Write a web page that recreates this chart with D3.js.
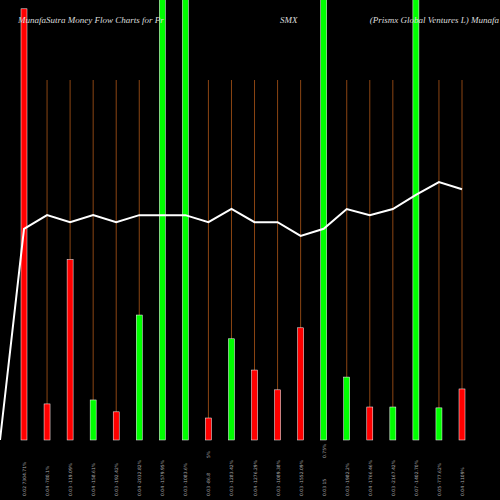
<!DOCTYPE html><html><head><meta charset="utf-8"><script src="https://d3js.org/d3.v7.min.js"></script>
<style>body{margin:0;background:#000}</style></head><body><svg id="c" width="500" height="500"></svg>
<script>
const labels=["0.02 7304.71%","0.04 -780.1%","0.03 -119.09%","0.04 -158.61%","0.03 -192.42%","0.04 -2032.82%","0.04 -1579.95%","0.03 -1083.6%","0.03 -86.8","0.03 -1283.42%","0.04 -1276.29%","0.03 -1089.38%","0.03 -1552.09%","0.03 15","0.03 -1982.2%","0.04 -1766.46%","0.03 -2167.42%","0.07 -1402.70%","0.05 -777.62%","0.04 -1109%"];
const topLabels=["","","","","","","","","5%","","","","","0.75%","","","","","",""];
const volume=[98,8.2,41,9.1,6.4,28.4,110,110,5,23,15.9,11.4,25.5,110,14.3,7.5,7.5,110,7.3,11.6];
const up=[0,0,0,1,0,1,1,1,0,1,0,0,0,1,1,0,1,1,1,0];
const price=[48,51.1,49.5,51.1,49.5,51.1,51.1,51.1,49.5,52.5,49.5,49.5,46.4,48,52.5,51.1,52.5,55.7,58.6,57];
const svg=d3.select("#c");
const x=d3.scaleLinear().domain([0,19]).range([24,462]);
const y=d3.scaleLinear().domain([0,100]).range([440,0]);
svg.append("rect").attr("width",500).attr("height",500).attr("fill","#000");
svg.selectAll("line.g").data(volume).join("line").attr("x1",(d,i)=>x(i)).attr("x2",(d,i)=>x(i))
 .attr("y1",80).attr("y2",440).attr("stroke","#8B4513").attr("stroke-width",1);
svg.selectAll("rect.b").data(volume).join("rect").attr("x",(d,i)=>x(i)-3).attr("width",6)
 .attr("y",d=>y(Math.min(d,105))).attr("height",d=>440-y(Math.min(d,105)))
 .attr("fill",(d,i)=>up[i]?"#00ff00":"#ff0000").attr("stroke","#fff").attr("stroke-width",0.5);
const pts=[[0,440]].concat(price.map((d,i)=>[x(i),y(d)]));
svg.append("path").attr("d",d3.line()(pts)).attr("fill","none").attr("stroke","#fff").attr("stroke-width",2);
labels.forEach((t,i)=>{
 svg.append("text").attr("transform",`translate(${x(i)+2},496) rotate(-90)`).attr("fill","#aaa")
  .attr("font-size",4.5).attr("font-family","DejaVu Sans").text(t);
 if(topLabels[i]) svg.append("text").attr("transform",`translate(${x(i)+2},458) rotate(-90)`).attr("fill","#aaa")
  .attr("font-size",4.5).attr("font-family","DejaVu Sans").text(topLabels[i]);
});
const tf={fill:"#ddd","font-size":9,"font-family":"Liberation Serif","font-style":"italic"};
[["MunafaSutra  Money Flow  Charts for Pr",18,"start"],["SMX",280,"start"],["(Prismx Global Ventures L) Munafa",499,"end"]].forEach(([t,px,a])=>{
 const e=svg.append("text").attr("x",px).attr("y",23).attr("text-anchor",a).text(t);Object.entries(tf).forEach(([k,v])=>e.attr(k,v));});
</script></body></html>
